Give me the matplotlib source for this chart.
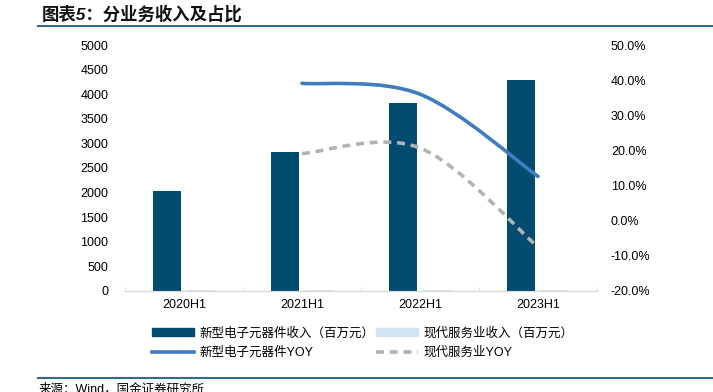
import matplotlib
matplotlib.use('Agg')
import matplotlib.pyplot as plt
import numpy as np
from matplotlib.path import Path
from matplotlib.patches import PathPatch
from matplotlib.lines import Line2D
from matplotlib.patches import Patch

plt.rcParams['font.family'] = ['Liberation Sans', 'Noto Sans CJK SC', 'DejaVu Sans']

# data
periods = ['2020H1', '2021H1', '2022H1', '2023H1']
rev_components = [2033, 2819, 3827, 4289]     # 新型电子元器件收入（百万元）
rev_services = [28, 26, 27, 25]               # 现代服务业收入（百万元）
yoy_periods = [1, 2, 3]                        # index into periods
yoy_components = [39.1, 36.0, 12.6]           # %
yoy_services = [19.1, 20.7, -7.5]             # %

c_dark = '#034b6f'
c_light = '#d3e3f1'
c_blue = '#3f7cc0'
c_grey = '#b3b3b3'


def smooth_path(xs, ys):
    # catmull-rom style bezier through the points (excel "smoothed line")
    pts = np.column_stack([xs, ys]).astype(float)
    p = np.vstack([pts[0], pts, pts[-1]])
    verts = [tuple(pts[0])]
    codes = [Path.MOVETO]
    for i in range(1, len(p) - 2):
        c1 = p[i] + (p[i + 1] - p[i - 1]) / 6
        c2 = p[i + 1] - (p[i + 2] - p[i]) / 6
        verts += [tuple(c1), tuple(c2), tuple(p[i + 1])]
        codes += [Path.CURVE4] * 3
    return Path(verts, codes)


fig = plt.figure(figsize=(7.13, 3.92), dpi=100)
ax = fig.add_axes([0.1753, 0.2577, 0.6620, 0.6275])
ax2 = ax.twinx()

x = np.arange(len(periods))
w = 0.235
ax.bar(x - 0.145, rev_components, w, color=c_dark, zorder=2)
ax.bar(x + 0.145, rev_services, w, color=c_light, zorder=2)

ax.set_xlim(-0.5, len(periods) - 0.5)
ax.set_ylim(0, 5000)
ax.set_yticks(np.arange(0, 5001, 500))
ax.set_xticks(x)
ax.set_xticklabels(periods)
ax.set_xticks(np.arange(-0.5, len(periods)), minor=True)
ax.tick_params(axis='y', length=0, pad=12, labelsize=9)
ax.tick_params(axis='x', which='major', length=0, pad=6, labelsize=9)
ax.tick_params(axis='x', which='minor', length=3, direction='in', color='#d9d9d9')

ax2.set_ylim(-20, 50)
ax2.set_yticks(np.arange(-20, 51, 10))
ax2.set_yticklabels(['%.1f%%' % v for v in np.arange(-20, 51, 10)])
ax2.tick_params(axis='y', length=0, pad=10, labelsize=9)

for a in (ax, ax2):
    for s in ['top', 'left', 'right']:
        a.spines[s].set_visible(False)
    a.spines['bottom'].set_color('#d9d9d9')

ax2.add_patch(PathPatch(smooth_path(yoy_periods, yoy_components), fill=False,
                        edgecolor=c_blue, lw=2.6, capstyle='round', zorder=3))
ax2.add_patch(PathPatch(smooth_path(yoy_periods, yoy_services), fill=False,
                        edgecolor=c_grey, lw=2.6, linestyle=(0, (2.2, 1.6)), zorder=3))

# row-major order with ncol=2 -> pass column by column
handles = [Patch(color=c_dark),
           Line2D([], [], color=c_blue, lw=2.6),
           Patch(color=c_light),
           Line2D([], [], color=c_grey, lw=2.6, linestyle=(0, (2.2, 1.6)))]
labels = ['新型电子元器件收入（百万元）', '新型电子元器件YOY',
          '现代服务业收入（百万元）', '现代服务业YOY']
fig.legend(handles, labels, ncol=2, loc='upper left', bbox_to_anchor=(0.213, 0.165),
           frameon=False, fontsize=9, handlelength=3.4, handleheight=0.6,
           columnspacing=0.1, handletextpad=0.4, labelspacing=0.55,
           borderaxespad=0, borderpad=0)

# title and frame lines
fig.text(0.059, 1 - 14 / 392, '图表5：分业务收入及占比', fontsize=12.5, fontweight='bold',
         style='italic', va='center', ha='left', color='#111111')
fig.add_artist(Line2D([38 / 713, 1], [1 - 25.5 / 392] * 2, color='#2f6c8f', lw=1.5))
fig.add_artist(Line2D([38 / 713, 1], [1 - 378 / 392] * 2, color='#2f6c8f', lw=1.5))
fig.text(0.054, 1 - 383 / 392, '来源：Wind，国金证券研究所', fontsize=9, va='top', ha='left')

fig.savefig('out.png', dpi=100)
